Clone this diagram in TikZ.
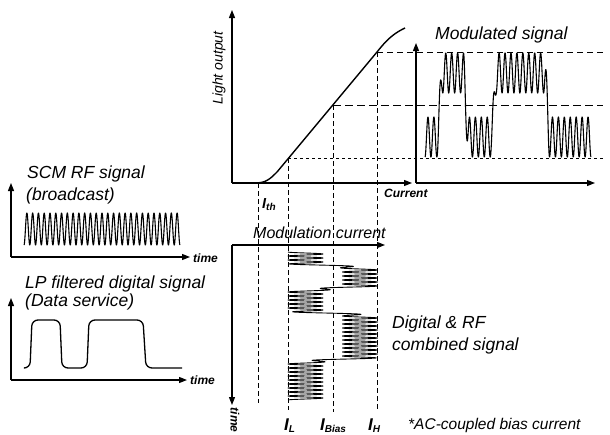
\documentclass[tikz,border=0pt]{standalone}
\usepackage{fontspec}
\setmainfont{Liberation Sans}
\usetikzlibrary{arrows.meta}
\newcommand\mysb[1]{\raisebox{-2.5pt}{\fontsize{10}{10}\selectfont #1}}
\begin{document}
\begin{tikzpicture}[x=1pt,y=-1pt,
  ax/.style={line width=1.3pt,-{Triangle[length=8pt,width=6pt]}},
  lbl/.style={inner sep=0pt,anchor=base west,font=\fontsize{17.5}{20}\selectfont\itshape},
  smalllbl/.style={inner sep=0pt,anchor=base west,font=\fontsize{12}{14}\selectfont\bfseries\itshape},
  ilbl/.style={inner sep=0pt,anchor=base west,font=\fontsize{17}{20}\selectfont\bfseries\itshape},
  vdash/.style={line width=0.9pt,dash pattern=on 5pt off 3pt},
  hdashA/.style={line width=0.8pt,dash pattern=on 6pt off 4pt},
  hdashB/.style={line width=1pt,dash pattern=on 8pt off 4pt},
  hdashC/.style={line width=0.6pt,dash pattern=on 3pt off 3pt},
  sig/.style={line width=1.1pt,line join=round},
  declare function={cl(\t,\w)=min(1,max(0,(\t+\w)/(2*\w)));
                    sst(\t,\w)=cl(\t,\w)*cl(\t,\w)*(3-2*cl(\t,\w));}
]
\useasboundingbox (0,0) rectangle (610,434);

% ---------- main light-current graph ----------
\coordinate (O1) at (232,183);
\coordinate (Y1) at (232,10);
\coordinate (X1) at (412,183);
\draw[ax] (O1) -- (Y1);
\draw[ax] (O1) -- (X1);
\node[inner sep=0pt,rotate=90,font=\fontsize{14}{16}\selectfont\itshape] (tlo) at (219,68) {Light output};
\node[smalllbl] (tcur) at (384,197) {Current};

% dashed guide lines
\coordinate (PL) at (288,158);
\coordinate (PB) at (333,105);
\coordinate (PH) at (377,52);
\coordinate (ThT) at (258,183);
\coordinate (ThB) at (258,403);
\coordinate (LB) at (288,410);
\coordinate (BB) at (333,412);
\coordinate (HB) at (377,410);
\coordinate (RL) at (603,158);
\coordinate (RB) at (603,105);
\coordinate (RH) at (603,52);
\draw[vdash] (ThT) -- (ThB);
\draw[vdash] (PL) -- (LB);
\draw[vdash] (PB) -- (BB);
\draw[vdash] (PH) -- (HB);
\draw[hdashC] (PL) -- (RL);
\draw[hdashB] (PB) -- (RB);
\draw[hdashA] (PH) -- (RH);

% L-I curve
\draw[line width=1.4pt,line join=round] (O1) -- (255,183)
  .. controls (266,183) and (270,179) .. (277,172) -- (PH)
  .. controls (385,42) and (392,34) .. (405,28);

\node[inner sep=0pt,anchor=base west,font=\fontsize{14.5}{16}\selectfont\bfseries\itshape] (lth) at (262,208) {I\mysb{th}};

% ---------- modulated signal graph ----------
\coordinate (O2) at (416,183);
\coordinate (Y2) at (416,43);
\coordinate (X2) at (595,183);
\draw[ax] (O2) -- (Y2);
\draw[ax] (O2) -- (X2);
\node[lbl] (tmod) at (435,39) {Modulated signal};
\draw[sig] plot[domain=425:591,samples=1100]
  (\x,{137-64*(sst(\x-440,2.5)-sst(\x-466,2.5)+sst(\x-494,2.5)-sst(\x-547,2.5))+20*cos(60.72*(\x-425))});

% ---------- modulation current graph ----------
\coordinate (O3) at (232,245);
\coordinate (X3) at (385,245);
\coordinate (Y3) at (232,405);
\draw[ax] (O3) -- (X3);
\draw[ax] (O3) -- (Y3);
\node[inner sep=0pt,anchor=base west,font=\fontsize{16}{18}\selectfont\itshape] (tmc) at (253,238) {Modulation current};
\node[inner sep=0pt,rotate=-90,font=\fontsize{12}{14}\selectfont\bfseries\itshape] (tt3) at (235,420) {time};
\draw[line width=0.9pt,line join=round] plot[variable=\t,domain=252:400,samples=1200]
  ({305.5+54.5*(sst(\t-266,2.5)-sst(\t-288.5,2.5)+sst(\t-313.5,2.5)-sst(\t-360,2.5))-17.5*cos(90*(\t-252))},\t);

\node[ilbl] (lL) at (284,430) {I\mysb{L}};
\node[ilbl] (lB) at (320,430) {I\mysb{Bias}};
\node[ilbl] (lH) at (368,430) {I\mysb{H}};
\node[lbl] (tdig) at (392,328) {Digital \& RF};
\node[lbl] (tcomb) at (392,350) {combined signal};
\node[lbl,font=\fontsize{15.5}{18}\selectfont\itshape] (tac) at (408,429) {*AC-coupled bias current};

% ---------- SCM RF signal ----------
\coordinate (O4) at (11,257);
\coordinate (Y4) at (11,183);
\coordinate (X4) at (190,257);
\draw[ax] (O4) -- (Y4);
\draw[ax] (O4) -- (X4);
\node[smalllbl] (tt1) at (193,262) {time};
\node[lbl] (tscm) at (27,178) {SCM RF signal};
\node[lbl] (tbc) at (26,200) {(broadcast)};
\draw[sig] plot[domain=24:180,samples=700] (\x,{229+16*cos(62.31*(\x-24))});

% ---------- LP filtered digital signal ----------
\coordinate (O5) at (11,380);
\coordinate (Y5) at (11,298);
\coordinate (X5) at (187,380);
\draw[ax] (O5) -- (Y5);
\draw[ax] (O5) -- (X5);
\node[smalllbl] (tt2) at (190,384) {time};
\node[lbl] (tlp) at (25,288) {LP filtered digital signal};
\node[lbl] (tds) at (25,306) {(Data service)};
\draw[line width=1.3pt,rounded corners=6pt] (25,368) -- (30,368) -- (32,320) -- (60,320) -- (62,368)
  -- (87,368) -- (89,320) -- (143,320) -- (146,368) -- (182,368);
\end{tikzpicture}
\end{document}
